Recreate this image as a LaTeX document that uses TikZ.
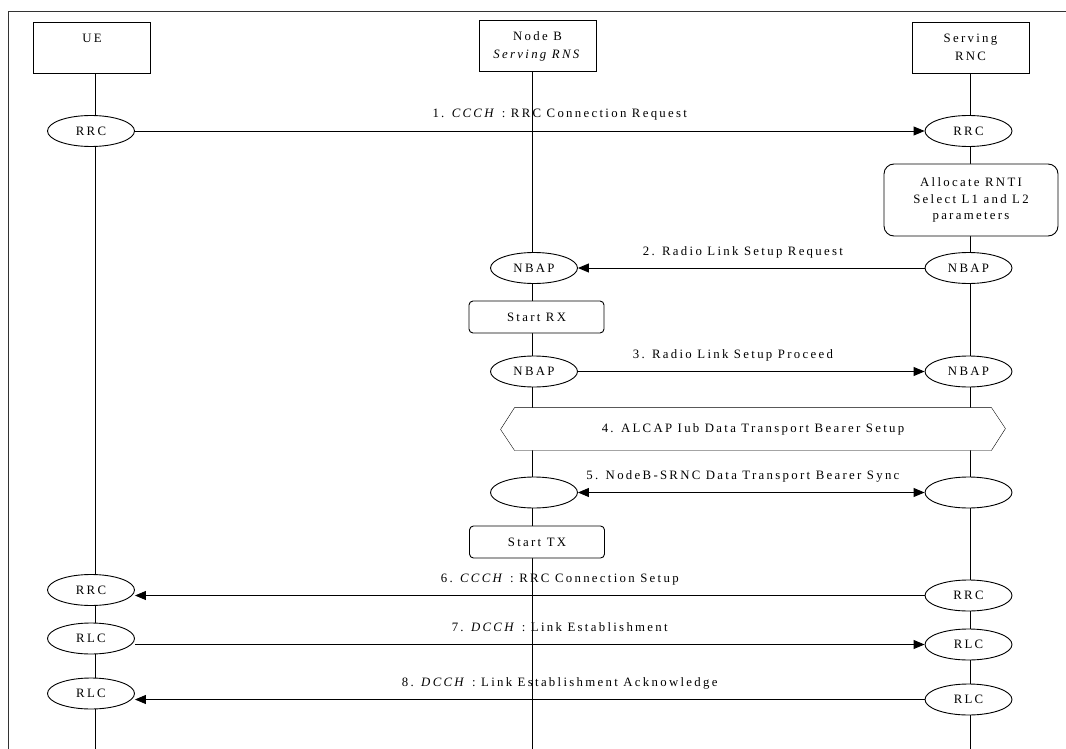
\documentclass[tikz,border=0pt]{standalone}
\usepackage{fontspec}
\setmainfont{Liberation Serif}[LetterSpace=18]
\usepackage{tikz}
\usetikzlibrary{shapes.geometric,arrows.meta,backgrounds}

\tikzset{
  entity/.style={draw, minimum width=117pt, minimum height=51pt, align=center},
  proto/.style={draw, ellipse, fill=white, minimum width=87pt, minimum height=31pt, inner sep=0pt},
  action/.style={draw, fill=white, rounded corners=4pt, minimum width=135pt, minimum height=32pt},
  msg/.style={pos=#1, anchor=base, yshift=13pt},
}

\begin{document}
\begin{tikzpicture}[x=1pt, y=1pt, line width=0.9pt, >={Triangle[length=11pt,width=9pt]},
    font=\fontsize{12.8}{18}\selectfont]
    \useasboundingbox (0,0) rectangle (1066,-749);
    \draw[line width=1pt, black!80] (8,-749) -- (8,-12) -- (1066,-12);

    % entities
    \node[entity] (ue) at (92,-47.5) {UE\\ \mbox{}};
    \node[entity] (nodeb) at (537.5,-46) {Node B\\\textit{Serving RNS}};
    \node[entity] (rnc) at (970.5,-47.5) {Serving\\RNC};
    \coordinate (ueend) at (95,-749);
    \coordinate (nbend) at (532,-749);
    \coordinate (rncend) at (970,-749);

    \node[proto] (ue1) at (91,-131) {RRC};
    \node[proto] (rnc1) at (968.5,-131) {RRC};
    \node[action, rounded corners=10pt, minimum width=174pt, minimum height=72pt, align=center,
          font=\fontsize{12.8}{16.7}\selectfont] (alloc) at (971,-200)
          {Allocate RNTI\\Select L1 and L2\\parameters};
    \node[proto] (nb2) at (534,-268) {NBAP};
    \node[proto] (rnc2) at (968.5,-268) {NBAP};
    \node[action] (rx) at (536.5,-317) {Start RX};
    \node[proto] (nb3) at (534,-371.5) {NBAP};
    \node[proto] (rnc3) at (968.5,-371.5) {NBAP};
    \node[minimum width=476pt, minimum height=42pt, inner sep=0pt] (bearer) at (753,-429)
          {4. ALCAP Iub Data Transport Bearer Setup};
    \node[proto] (nb5) at (534,-492.5) {};
    \node[proto] (rnc5) at (968.5,-492.5) {};
    \node[action] (tx) at (537,-542) {Start TX};
    \node[proto] (ue6) at (91,-590) {RRC};
    \node[proto] (rnc6) at (968.5,-595.5) {RRC};
    \node[proto] (ue7) at (91,-638.5) {RLC};
    \node[proto] (rnc7) at (968.5,-644.5) {RLC};
    \node[proto] (ue8) at (91,-693.5) {RLC};
    \node[proto] (rnc8) at (968.5,-699.5) {RLC};

    % messages
    \draw[->] (ue1) edge node[msg=0.538] {1. \textit{CCCH} : RRC Connection Request} (rnc1)
              (rnc2) edge node[msg=0.524] {2. Radio Link Setup Request} (nb2)
              (nb3) edge node[msg=0.447] {3. Radio Link Setup Proceed} (rnc3);
    \draw[<->] (nb5) -- node[msg=0.476] {5. NodeB-SRNC Data Transport Bearer Sync} (rnc5);
    \draw[->] (rnc6.west) -- node[msg=0.462] {6. \textit{CCCH} : RRC Connection Setup} (ue6.east |- rnc6.west);
    \draw[->] (ue7.east |- rnc7.west) -- node[msg=0.538] {7. \textit{DCCH} : Link Establishment} (rnc7.west);
    \draw[->] (rnc8.west) -- node[msg=0.462] {8. \textit{DCCH} : Link Establishment Acknowledge} (ue8.east |- rnc8.west);

    \begin{scope}[on background layer]
      \draw (ue.south -| ueend) -- (ueend);
      \draw (nodeb.south -| nbend) -- (nbend);
      \draw (rnc.south -| rncend) -- (rncend);
      \draw[fill=white] (bearer.north west) -- (bearer.north east) -- ++(14,-21)
            -- (bearer.south east) -- (bearer.south west) -- ++(-14,21) -- cycle;
    \end{scope}
\end{tikzpicture}
\end{document}
